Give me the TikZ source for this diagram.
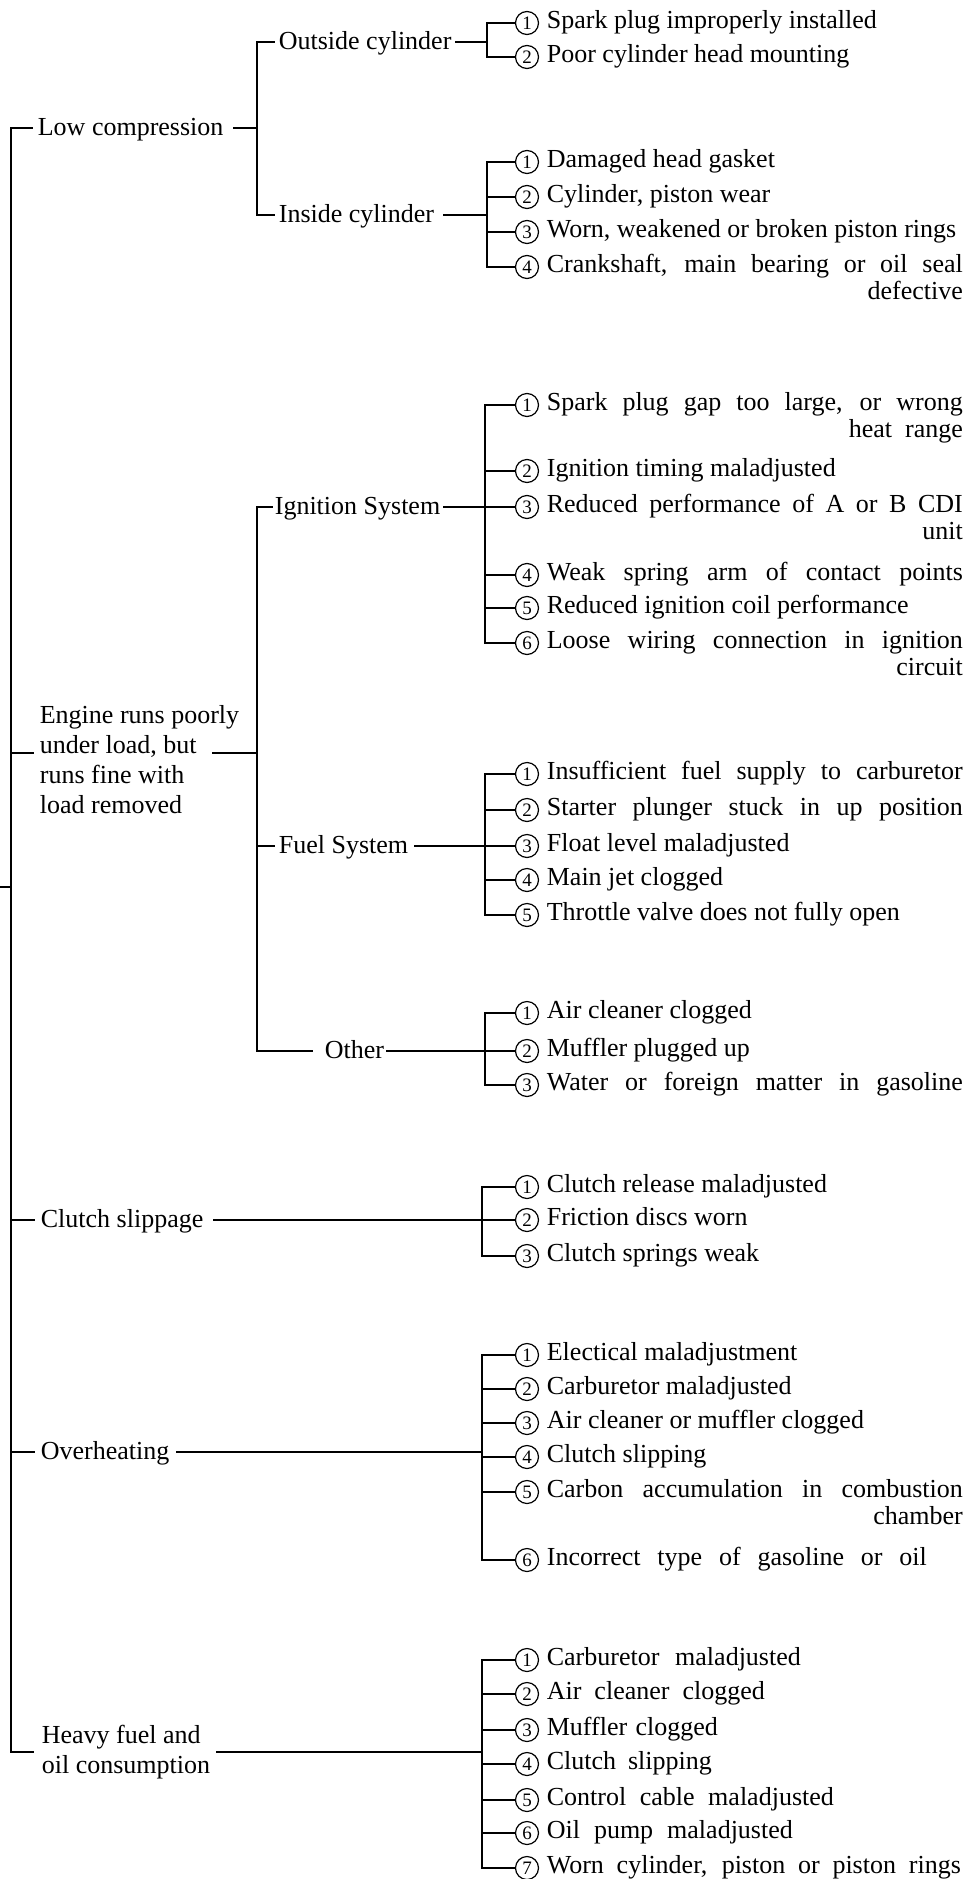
\documentclass[tikz,border=0pt]{standalone}
\usepackage{fontspec}
\setmainfont{Liberation Serif}
\usetikzlibrary{calc}
\newcommand\twol[3]{\vtop{\baselineskip=27pt\hbox{\makebox[#1pt][s]{#2}}\hbox to #1pt{\hfil #3}}}
\newcommand\sline[2]{\makebox[#1pt][s]{#2}}
\newcommand\cz[5]{%
  \coordinate (#1b) at (#2,#3);
  \node[num] (#1c) at (527,#3) {#4};
  \node[itm] (#1) at (546,#3+5) {#5};
  \draw (#1b) -- (#1c);}
\begin{document}
\begin{tikzpicture}[x=1pt,y=-1pt,line width=1.7pt,line cap=rect,
  lbl/.style={anchor=base west,inner sep=0pt,font=\fontsize{26}{30}\selectfont},
  num/.style={circle,draw,line width=1.2pt,minimum size=23pt,inner sep=0pt,font=\fontsize{19}{19}\selectfont},
  itm/.style={anchor=base west,inner sep=0pt,font=\fontsize{26}{27}\selectfont}]
\useasboundingbox (0,0) rectangle (967,1879);
\fill[white] (0,0) rectangle (967,1879);

% spine
\coordinate (spT) at (11,128);
\coordinate (spB) at (11,1752);
\coordinate (stubL) at (0,887);
\coordinate (stubR) at (11,887);
\draw (spT) -- (spB);
\draw (stubL) -- (stubR);

% ---------- Low compression
\coordinate (lcT) at (32,128);
\draw (spT) -- (lcT);
\node[lbl] (lc) at (37,135) {Low compression};
\coordinate (lcJ) at (257,128);
\draw ($(lc.east |- lcJ)+(10,0)$) -- (lcJ);
\coordinate (ocJ) at (257,42);
\coordinate (icJ) at (257,215);
\draw (ocJ) -- (icJ);

% Outside cylinder
\coordinate (ocT) at (274,42);
\draw (ocJ) -- (ocT);
\node[lbl] (oc) at (278,49) {Outside cylinder};
\coordinate (ocB) at (487,42);
\draw ($(oc.east |- ocB)+(4,0)$) -- (ocB);
\cz{oca}{487}{23}{1}{Spark plug improperly installed}
\cz{ocb}{487}{57}{2}{Poor cylinder head mounting}
\draw (ocab) -- (ocbb);

% Inside cylinder
\coordinate (icT) at (274,215);
\draw (icJ) -- (icT);
\node[lbl] (ic) at (278,222) {Inside cylinder};
\coordinate (icB) at (487,215);
\draw ($(ic.east |- icB)+(9,0)$) -- (icB);
\cz{ica}{487}{162}{1}{Damaged head gasket}
\cz{icb}{487}{197}{2}{Cylinder, piston wear}
\cz{icc}{487}{232}{3}{Worn, weakened or broken piston rings}
\cz{icd}{487}{267}{4}{\twol{416}{Crankshaft, main bearing or oil seal}{defective}}
\draw (icab) -- (icdb);

% ---------- Engine runs poorly
\coordinate (enT) at (33,753);
\coordinate (spE) at (11,753);
\draw (spE) -- (enT);
\node[lbl] (en) at (39,723) {\vtop{\baselineskip=30pt\hbox{Engine runs poorly}\hbox{under load, but}\hbox{runs fine with}\hbox{load removed}}};
\coordinate (enS) at (213,753);
\coordinate (enJ) at (257,753);
\draw (enS) -- (enJ);
\coordinate (igJ) at (257,507);
\coordinate (otJ) at (257,1051);
\draw (igJ) -- (otJ);

% Ignition system
\coordinate (igT) at (272,507);
\draw (igJ) -- (igT);
\node[lbl] (ig) at (274,514) {Ignition System};
\coordinate (igB) at (485,507);
\draw ($(ig.east |- igB)+(3,0)$) -- (igB);
\cz{iga}{485}{405}{1}{\twol{416}{Spark plug gap too large, or wrong}{heat\ \ range}}
\cz{igb}{485}{471}{2}{Ignition timing maladjusted}
\cz{igc}{485}{507}{3}{\twol{416}{Reduced performance of A or B CDI}{unit}}
\cz{igd}{485}{575}{4}{\sline{416}{Weak spring arm of contact points}}
\cz{ige}{485}{608}{5}{Reduced ignition coil performance}
\cz{igf}{485}{643}{6}{\twol{416}{Loose wiring connection in ignition}{circuit}}
\draw (igab) -- (igfb);

% Fuel system
\coordinate (fsJ) at (257,846);
\coordinate (fsT) at (274,846);
\draw (fsJ) -- (fsT);
\node[lbl] (fs) at (278,853) {Fuel System};
\coordinate (fsB) at (485,846);
\draw ($(fs.east |- fsB)+(6,0)$) -- (fsB);
\cz{fsa}{485}{774}{1}{\sline{416}{Insufficient fuel supply to carburetor}}
\cz{fsb}{485}{810}{2}{\sline{416}{Starter plunger stuck in up position}}
\cz{fsc}{485}{846}{3}{Float level maladjusted}
\cz{fsd}{485}{880}{4}{Main jet clogged}
\cz{fse}{485}{915}{5}{Throttle valve does not fully open}
\draw (fsab) -- (fseb);

% Other
\coordinate (otT) at (312,1051);
\draw (otJ) -- (otT);
\node[lbl] (ot) at (324,1058) {Other};
\coordinate (otB) at (485,1051);
\draw ($(ot.east |- otB)+(2,0)$) -- (otB);
\cz{ota}{485}{1013}{1}{Air cleaner clogged}
\cz{otb}{485}{1051}{2}{Muffler plugged up}
\cz{otc}{485}{1085}{3}{\sline{416}{Water or foreign matter in gasoline}}
\draw (otab) -- (otcb);

% ---------- Clutch slippage
\coordinate (csS) at (11,1220);
\coordinate (csT) at (34,1220);
\draw (csS) -- (csT);
\node[lbl] (cs) at (40,1227) {Clutch slippage};
\coordinate (csB) at (482,1220);
\draw ($(cs.east |- csB)+(10,0)$) -- (csB);
\cz{csa}{482}{1187}{1}{Clutch release maladjusted}
\cz{csb}{482}{1220}{2}{Friction discs worn}
\cz{csc}{482}{1256}{3}{Clutch springs weak}
\draw (csab) -- (cscb);

% ---------- Overheating
\coordinate (ohS) at (11,1452);
\coordinate (ohT) at (34,1452);
\draw (ohS) -- (ohT);
\node[lbl] (oh) at (40,1459) {Overheating};
\coordinate (ohB) at (482,1452);
\draw ($(oh.east |- ohB)+(7,0)$) -- (ohB);
\cz{oha}{482}{1355}{1}{Electical maladjustment}
\cz{ohb}{482}{1389}{2}{Carburetor maladjusted}
\cz{ohc}{482}{1423}{3}{Air cleaner or muffler clogged}
\cz{ohd}{482}{1457}{4}{Clutch slipping}
\cz{ohe}{482}{1492}{5}{\twol{416}{Carbon accumulation in combustion}{chamber}}
\cz{ohf}{482}{1560}{6}{\sline{380}{Incorrect type of gasoline or oil}}
\draw (ohab) -- (ohfb);

% ---------- Heavy fuel and oil consumption
\coordinate (hfT) at (33,1752);
\draw (spB) -- (hfT);
\node[lbl] (hf) at (41,1743) {\vtop{\baselineskip=30pt\hbox{Heavy fuel and}\hbox{oil consumption}}};
\coordinate (hfS) at (217,1752);
\coordinate (hfB) at (482,1752);
\draw (hfS) -- (hfB);
\cz{hfa}{482}{1660}{1}{\sline{254}{Carburetor maladjusted}}
\cz{hfb}{482}{1694}{2}{\sline{218}{Air cleaner clogged}}
\cz{hfc}{482}{1730}{3}{\sline{171}{Muffler clogged}}
\cz{hfd}{482}{1764}{4}{\sline{165}{Clutch slipping}}
\cz{hfe}{482}{1800}{5}{\sline{287}{Control cable maladjusted}}
\cz{hff}{482}{1833}{6}{\sline{246}{Oil pump maladjusted}}
\cz{hfg}{482}{1868}{7}{\sline{414}{Worn cylinder, piston or piston rings}}
\draw (hfab) -- (hfgb);
\end{tikzpicture}
\end{document}
